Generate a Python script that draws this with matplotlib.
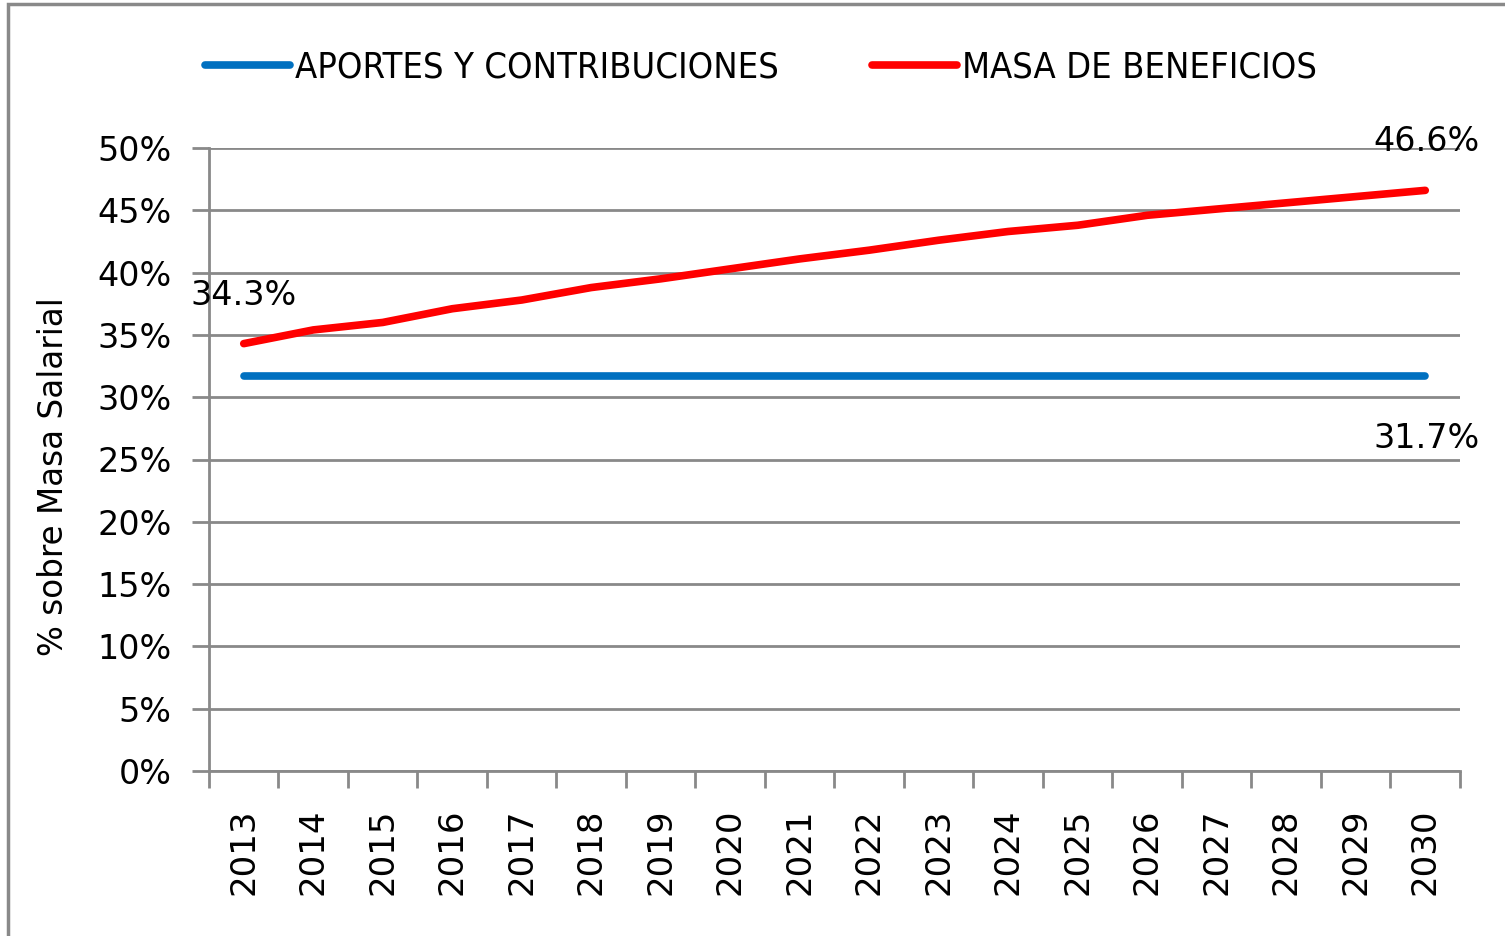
import matplotlib
matplotlib.use('Agg')
import matplotlib.pyplot as plt
import numpy as np
from matplotlib.patches import Rectangle
from matplotlib import font_manager

years = ['2013', '2014', '2015', '2016', '2017', '2018', '2019', '2020', '2021',
         '2022', '2023', '2024', '2025', '2026', '2027', '2028', '2029', '2030']
aportes = [31.7] * 18
beneficios = [34.3, 35.4, 36.0, 37.1, 37.8, 38.8, 39.5, 40.3, 41.1,
              41.8, 42.6, 43.3, 43.8, 44.6, 45.1, 45.6, 46.1, 46.6]
yticks = [0, 5, 10, 15, 20, 25, 30, 35, 40, 45, 50]

gris = '#898989'
plt.rcParams['font.family'] = ['DejaVu Sans']

# buscar una fuente estrecha para la leyenda (tipo Calibri)
narrow = None
for f in font_manager.fontManager.ttflist:
    if ('Narrow' in f.name or f.stretch in ('condensed', 'semi-condensed')) \
            and f.style == 'normal' and f.weight in (400, 'normal', 'regular'):
        narrow = f.fname
        break
if narrow:
    prop_leg = font_manager.FontProperties(fname=narrow, size=26)
else:
    prop_leg = font_manager.FontProperties(family='DejaVu Sans', size=23)

fig = plt.figure(figsize=(15.05, 9.36), dpi=100, facecolor='w')
ax = fig.add_axes([209/1505, 1 - 771/936, (1460 - 209)/1505, (771 - 148)/936])

x = np.arange(len(years))
l1, = ax.plot(x, aportes, color='#0070C0', lw=5.5, solid_capstyle='round')
l2, = ax.plot(x, beneficios, color='#FF0000', lw=5.5, solid_capstyle='round')

ax.set_xlim(-0.5, len(years) - 0.5)
ax.set_ylim(0, 50)
ax.set_yticks(yticks)
ax.set_yticklabels([f'{v}%' for v in yticks], fontsize=24)
ax.yaxis.grid(True, color=gris, lw=2)
ax.set_axisbelow(True)

ax.set_xticks(np.arange(-0.5, len(years), 1.0))
ax.set_xticklabels([])
ax.set_xticks(x, minor=True)
ax.set_xticklabels(years, minor=True, rotation=90, fontsize=24.5)
ax.tick_params(axis='x', which='major', length=12, width=2, color=gris)
ax.tick_params(axis='x', which='minor', length=0, pad=27)
ax.tick_params(axis='y', length=12, width=2, color=gris, pad=15)
for s in ['top', 'right']:
    ax.spines[s].set_visible(False)
for s in ['left', 'bottom']:
    ax.spines[s].set_color(gris)
    ax.spines[s].set_linewidth(2)

fig.text(54/1505, 1 - 477/936, '% sobre Masa Salarial', rotation=90,
         ha='center', va='center', fontsize=23.5)

ax.annotate(f'{beneficios[0]:.1f}%', (x[0], beneficios[0]), xytext=(0, 35),
            textcoords='offset points', ha='center', va='center', fontsize=24)
ax.annotate(f'{beneficios[-1]:.1f}%', (x[-1], beneficios[-1]), xytext=(1, 35),
            textcoords='offset points', ha='center', va='center', fontsize=24)
ax.annotate(f'{aportes[-1]:.1f}%', (x[-1], aportes[-1]), xytext=(1, -45),
            textcoords='offset points', ha='center', va='center', fontsize=24)

leg = ax.legend([l1, l2], ['APORTES Y CONTRIBUCIONES', 'MASA DE BENEFICIOS'],
                ncol=2, loc='center', bbox_to_anchor=(761/1505, 1 - 68/936),
                bbox_transform=fig.transFigure, frameon=False, prop=prop_leg,
                handlelength=2.35, handletextpad=0.12, columnspacing=2.6)

fig.patches.append(Rectangle((8/1505, -0.01), 1.1, 1 - 4/936 + 0.01, transform=fig.transFigure,
                             fill=False, edgecolor=gris, lw=2.5))

fig.savefig('out.png', dpi=100)
